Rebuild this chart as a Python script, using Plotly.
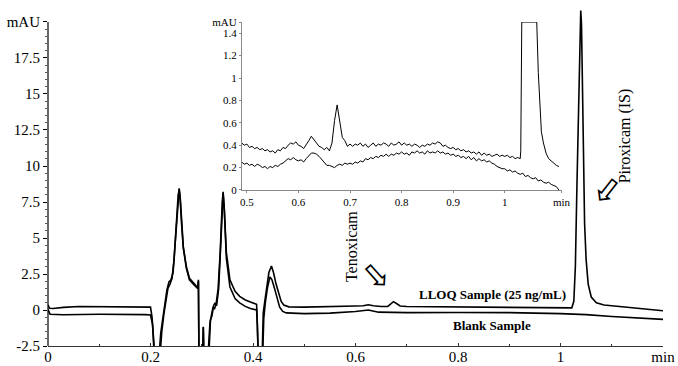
import plotly.graph_objects as go

# ---------------- main chromatogram data ----------------
lloq_x = [0.0, 0.003, 0.01, 0.03, 0.06, 0.1, 0.15, 0.19, 0.2, 0.203, 0.206, 0.208, 0.217,
          0.22, 0.224, 0.228, 0.232, 0.236, 0.24, 0.244, 0.248, 0.252, 0.256, 0.258, 0.2606,
          0.264, 0.27, 0.276, 0.286, 0.292, 0.2935, 0.2945, 0.302, 0.303, 0.304, 0.3125,
          0.316, 0.319, 0.322, 0.325, 0.328, 0.332, 0.336, 0.34, 0.3417, 0.344, 0.345, 0.348,
          0.355, 0.365, 0.374, 0.385, 0.395, 0.407, 0.408, 0.41, 0.418, 0.42, 0.423, 0.427,
          0.431, 0.436, 0.44, 0.445, 0.45, 0.455, 0.46, 0.47, 0.5, 0.55, 0.6, 0.615, 0.625,
          0.635, 0.65, 0.663, 0.669, 0.674, 0.68, 0.687, 0.7, 0.75, 0.8, 0.85, 0.9, 0.95, 1.0,
          1.022, 1.026, 1.029, 1.032, 1.035, 1.038, 1.0395, 1.041, 1.043, 1.045, 1.047, 1.05,
          1.054, 1.06, 1.07, 1.085, 1.11, 1.15, 1.2]
lloq_y = [0.35, 0.12, 0.1, 0.18, 0.24, 0.22, 0.2, 0.22, 0.2, -0.5, -2.0, -3.0, -3.0,
          -1.6, -0.6, 0.5, 1.4, 1.95, 2.1, 2.6, 4.5, 7.0, 8.45, 7.8, 6.2,
          4.4, 3.0, 2.2, 1.8, 1.55, 2.1, -3.0, -3.0, -1.16, -3.0, -3.0,
          -0.9, -0.2, 0.2, 0.1, 0.4, 1.5, 4.0, 7.5, 8.2, 7.0, 6.3, 4.0,
          2.1, 1.3, 0.95, 0.7, 0.55, 0.4, -0.5, -3.0, -3.0, -0.2, 0.6, 1.5,
          2.6, 3.05, 2.6, 1.8, 1.1, 0.6, 0.35, 0.22, 0.2, 0.22, 0.28, 0.3, 0.36,
          0.3, 0.24, 0.25, 0.42, 0.58, 0.45, 0.28, 0.24, 0.22, 0.2, 0.2, 0.17, 0.16, 0.15,
          0.15, 0.6, 3.0, 8.5, 14.5, 19.5, 20.8, 19.8, 15.5, 10.0, 6.0, 3.5,
          1.8, 0.9, 0.5, 0.35, 0.25, 0.12, -0.05]

blank_x = [0.0, 0.004, 0.03, 0.1, 0.19, 0.2, 0.204, 0.207, 0.219, 0.222, 0.226, 0.23,
           0.234, 0.238, 0.242, 0.246, 0.25, 0.254, 0.256, 0.258, 0.2606, 0.264, 0.27,
           0.276, 0.286, 0.292, 0.2935, 0.2945, 0.302, 0.303, 0.304, 0.314, 0.317, 0.32,
           0.323, 0.326, 0.329, 0.333, 0.337, 0.3405, 0.3417, 0.344, 0.345, 0.348, 0.355,
           0.365, 0.374, 0.385, 0.395, 0.407, 0.4085, 0.41, 0.419, 0.421, 0.424, 0.428,
           0.433, 0.437, 0.442, 0.447, 0.452, 0.458, 0.465, 0.5, 0.55, 0.6, 0.625, 0.645,
           0.7, 0.8, 0.9, 1.0, 1.05, 1.1, 1.15, 1.2]
blank_y = [0.05, -0.3, -0.33, -0.3, -0.32, -0.35, -1.0, -3.0, -3.0, -1.5, -0.3, 0.8,
           1.5, 1.8, 2.2, 3.5, 5.8, 8.0, 8.35, 7.6, 6.0, 4.3, 2.9,
           2.1, 1.7, 1.5, 2.0, -3.0, -3.0, -1.2, -3.0, -3.0, -0.7, -0.4,
           0.3, 0.5, 0.3, 1.5, 4.5, 7.8, 8.1, 7.0, 6.0, 3.6, 1.6,
           0.8, 0.5, 0.25, 0.1, 0.0, -1.0, -3.0, -3.0, -0.6, 0.5, 1.5,
           2.3, 2.1, 1.5, 0.8, 0.2, -0.1, -0.2, -0.25, -0.22, -0.1, 0.0, -0.15,
           -0.18, -0.17, -0.18, -0.25, -0.32, -0.45, -0.55, -0.65]

main_yticks = [-2.5, 0, 2.5, 5, 7.5, 10, 12.5, 15, 17.5, 20]
main_ytext = ["-2.5", "0", "2.5", "5", "7.5", "10", "12.5", "15", "17.5", "mAU"]
main_xticks = [0, 0.2, 0.4, 0.6, 0.8, 1.0, 1.2]
main_xtext = ["0", "0.2", "0.4", "0.6", "0.8", "1", "min"]

# ---------------- inset (zoom) data ----------------
ins_lloq_x = [0.490, 0.495, 0.500, 0.505, 0.510, 0.515, 0.520, 0.525, 0.530, 0.535, 0.540,
              0.545, 0.550, 0.555, 0.560, 0.565, 0.570, 0.575, 0.580, 0.585, 0.590, 0.595,
              0.600, 0.605, 0.610, 0.615, 0.620, 0.625, 0.630, 0.635, 0.640, 0.645, 0.650,
              0.655, 0.660, 0.665, 0.670, 0.675, 0.680, 0.685, 0.690, 0.695, 0.700, 0.705,
              0.710, 0.715, 0.720, 0.725, 0.730, 0.735, 0.740, 0.745, 0.750, 0.755, 0.760,
              0.765, 0.770, 0.775, 0.780, 0.785, 0.790, 0.795, 0.800, 0.805, 0.810, 0.815,
              0.820, 0.825, 0.830, 0.835, 0.840, 0.845, 0.850, 0.855, 0.860, 0.865, 0.870,
              0.875, 0.880, 0.885, 0.890, 0.895, 0.900, 0.905, 0.910, 0.915, 0.920, 0.925,
              0.930, 0.935, 0.940, 0.945, 0.950, 0.955, 0.960, 0.965, 0.970, 0.975, 0.980,
              0.985, 0.990, 0.995, 1.000, 1.005, 1.010, 1.015, 1.020, 1.025, 1.030, 1.031,
              1.033, 1.040, 1.045, 1.050, 1.055, 1.062, 1.065, 1.068, 1.071, 1.075, 1.080,
              1.085, 1.090, 1.095, 1.100, 1.105]
ins_lloq_y = [0.42, 0.40, 0.41, 0.38, 0.39, 0.37, 0.38, 0.36, 0.37, 0.35, 0.36,
              0.34, 0.35, 0.33, 0.36, 0.35, 0.38, 0.37, 0.40, 0.42, 0.41, 0.43,
              0.40, 0.39, 0.37, 0.40, 0.44, 0.48, 0.45, 0.42, 0.39, 0.38, 0.36,
              0.38, 0.35, 0.42, 0.62, 0.76, 0.62, 0.47, 0.44, 0.39, 0.41, 0.39,
              0.41, 0.40, 0.42, 0.39, 0.41, 0.38, 0.40, 0.42, 0.39, 0.41, 0.40,
              0.42, 0.41, 0.39, 0.42, 0.40, 0.41, 0.43, 0.40, 0.42, 0.40, 0.41,
              0.39, 0.41, 0.40, 0.38, 0.40, 0.39, 0.41, 0.40, 0.42, 0.41, 0.43,
              0.42, 0.39, 0.40, 0.38, 0.37, 0.38, 0.36, 0.37, 0.35, 0.36, 0.34,
              0.35, 0.33, 0.34, 0.32, 0.34, 0.31, 0.33, 0.31, 0.32, 0.30, 0.31,
              0.32, 0.30, 0.31, 0.30, 0.31, 0.29, 0.30, 0.28, 0.29, 0.28, 0.35,
              1.5, 1.5, 1.5, 1.5, 1.5, 1.5, 1.05, 0.75, 0.52, 0.42, 0.33,
              0.28, 0.26, 0.24, 0.22, 0.21]

ins_blank_x = [0.490, 0.495, 0.500, 0.505, 0.510, 0.515, 0.520, 0.525, 0.530, 0.535, 0.540,
               0.545, 0.550, 0.555, 0.560, 0.565, 0.570, 0.575, 0.580, 0.585, 0.590, 0.595,
               0.600, 0.605, 0.610, 0.615, 0.620, 0.625, 0.630, 0.635, 0.640, 0.645, 0.650,
               0.655, 0.660, 0.665, 0.670, 0.675, 0.680, 0.685, 0.690, 0.695, 0.700, 0.705,
               0.710, 0.715, 0.720, 0.725, 0.730, 0.735, 0.740, 0.745, 0.750, 0.755, 0.760,
               0.765, 0.770, 0.775, 0.780, 0.785, 0.790, 0.795, 0.800, 0.805, 0.810, 0.815,
               0.820, 0.825, 0.830, 0.835, 0.840, 0.845, 0.850, 0.855, 0.860, 0.865, 0.870,
               0.875, 0.880, 0.885, 0.890, 0.895, 0.900, 0.905, 0.910, 0.915, 0.920, 0.925,
               0.930, 0.935, 0.940, 0.945, 0.950, 0.955, 0.960, 0.965, 0.970, 0.975, 0.980,
               0.985, 0.990, 0.995, 1.000, 1.005, 1.010, 1.015, 1.020, 1.025, 1.030, 1.035,
               1.040, 1.045, 1.050, 1.055, 1.060, 1.065, 1.070, 1.075, 1.080, 1.085, 1.090,
               1.095, 1.100, 1.105]
ins_blank_y = [0.25, 0.23, 0.24, 0.22, 0.23, 0.21, 0.23, 0.22, 0.20, 0.21, 0.19,
               0.21, 0.20, 0.22, 0.21, 0.23, 0.24, 0.26, 0.28, 0.27, 0.29, 0.27,
               0.26, 0.27, 0.25, 0.28, 0.31, 0.33, 0.33, 0.32, 0.30, 0.27, 0.24,
               0.22, 0.22, 0.21, 0.20, 0.22, 0.23, 0.22, 0.24, 0.23, 0.24, 0.23,
               0.25, 0.24, 0.26, 0.25, 0.28, 0.27, 0.29, 0.28, 0.30, 0.29, 0.31,
               0.30, 0.32, 0.30, 0.32, 0.31, 0.33, 0.32, 0.34, 0.32, 0.33, 0.31,
               0.34, 0.33, 0.35, 0.33, 0.34, 0.32, 0.35, 0.33, 0.34, 0.33, 0.35,
               0.33, 0.34, 0.32, 0.33, 0.31, 0.32, 0.30, 0.31, 0.29, 0.30, 0.28,
               0.30, 0.27, 0.29, 0.26, 0.28, 0.26, 0.27, 0.25, 0.26, 0.24, 0.23,
               0.21, 0.20, 0.19, 0.19, 0.17, 0.18, 0.16, 0.17, 0.15, 0.14, 0.15,
               0.12, 0.13, 0.11, 0.10, 0.11, 0.08, 0.09, 0.07, 0.06, 0.07, 0.05,
               0.04, 0.03, 0.00]

ins_yticks = [0, 0.2, 0.4, 0.6, 0.8, 1.0, 1.2, 1.4, 1.5]
ins_ytext = ["0", "0.2", "0.4", "0.6", "0.8", "1", "1.2", "1.4", "mAU"]
ins_xticks = [0.5, 0.6, 0.7, 0.8, 0.9, 1.0, 1.11]
ins_xtext = ["0.5", "0.6", "0.7", "0.8", "0.9", "1", "min"]

SERIF = "Liberation Serif, Times New Roman, serif"

fig = go.Figure()
fig.add_trace(go.Scatter(x=blank_x, y=blank_y, mode="lines",
                         line=dict(color="black", width=1.6), xaxis="x", yaxis="y"))
fig.add_trace(go.Scatter(x=lloq_x, y=lloq_y, mode="lines",
                         line=dict(color="black", width=1.6), xaxis="x", yaxis="y"))
fig.add_trace(go.Scatter(x=ins_blank_x, y=ins_blank_y, mode="lines",
                         line=dict(color="black", width=1), xaxis="x2", yaxis="y2"))
fig.add_trace(go.Scatter(x=ins_lloq_x, y=ins_lloq_y, mode="lines",
                         line=dict(color="black", width=1), xaxis="x2", yaxis="y2"))

fig.update_layout(
    template="none",
    width=678, height=366,
    margin=dict(l=48, r=15, t=5, b=20, autoexpand=False),
    paper_bgcolor="white", plot_bgcolor="white",
    showlegend=False,
    font=dict(family=SERIF, color="black"),
    xaxis=dict(range=[0, 1.2], domain=[0, 1], showgrid=False, zeroline=False,
               automargin=False,
               showline=True, linecolor="#333", linewidth=1.2,
               tickmode="array", tickvals=main_xticks, ticktext=main_xtext,
               ticks="inside", ticklen=3, tickcolor="#333", ticklabeloverflow="allow",
               ticklabelstandoff=-3,
               tickfont=dict(family=SERIF, size=15),
               minor=dict(tickmode="array", tickvals=[0.1, 0.3, 0.5, 0.7, 0.9, 1.1],
                          ticks="inside", ticklen=2, tickcolor="#333")),
    yaxis=dict(range=[-2.5, 21.18], domain=[0, 1], showgrid=False, zeroline=False,
               automargin=False, showline=False,
               tickmode="array", tickvals=main_yticks, ticktext=main_ytext,
               ticks="outside", ticklen=4, tickcolor="black",
               tickfont=dict(family=SERIF, size=15),
               minor=dict(tickmode="array",
                          tickvals=[v / 2 for v in range(-5, 40) if v % 5 != 0],
                          ticks="outside", ticklen=2, tickcolor="#555")),
    xaxis2=dict(range=[0.4905, 1.111], domain=[0.3154, 0.8358], anchor="y2",
                automargin=False,
                showgrid=False, zeroline=False, showline=True, linecolor="#888",
                linewidth=1, tickmode="array", tickvals=ins_xticks, ticktext=ins_xtext,
                ticks="outside", ticklen=2, tickcolor="#888",
                tickfont=dict(family=SERIF, size=11)),
    yaxis2=dict(range=[0, 1.5], domain=[0.4575, 0.950], anchor="x2",
                automargin=False,
                showgrid=False, zeroline=False, showline=True, linecolor="#888",
                linewidth=1, tickmode="array", tickvals=ins_yticks, ticktext=ins_ytext,
                ticks="outside", ticklen=2, tickcolor="#888",
                tickfont=dict(family=SERIF, size=11)),
)

# main y-axis line only up to the mAU tick
fig.add_shape(type="line", xref="paper", yref="y", x0=0, x1=0, y0=-2.5, y1=20,
              line=dict(color="black", width=1.2))

fig.add_annotation(x=0.592, y=4.4, xref="x", yref="y", text="Tenoxicam", textangle=-90,
                   showarrow=False, font=dict(family=SERIF, size=16))
fig.add_annotation(x=0.642, y=2.4, xref="x", yref="y", text="\u21e8", textangle=48,
                   showarrow=False, font=dict(family="DejaVu Sans", size=34))
fig.add_annotation(x=1.125, y=12.1, xref="x", yref="y", text="Piroxicam (IS)",
                   textangle=-90, showarrow=False, font=dict(family=SERIF, size=16))
fig.add_annotation(x=1.09, y=8.4, xref="x", yref="y", text="\u21e6", textangle=-52,
                   showarrow=False, font=dict(family="DejaVu Sans", size=34))
fig.add_annotation(x=0.867, y=1.05, xref="x", yref="y", text="<b>LLOQ Sample (25 ng/mL)</b>",
                   showarrow=False, font=dict(family=SERIF, size=13))
fig.add_annotation(x=0.867, y=-1.05, xref="x", yref="y", text="<b>Blank Sample</b>",
                   showarrow=False, font=dict(family=SERIF, size=13))

fig.write_html("out.html", config={"displayModeBar": False},
               post_script="document.body.style.margin='0';document.body.style.overflow='hidden';")
